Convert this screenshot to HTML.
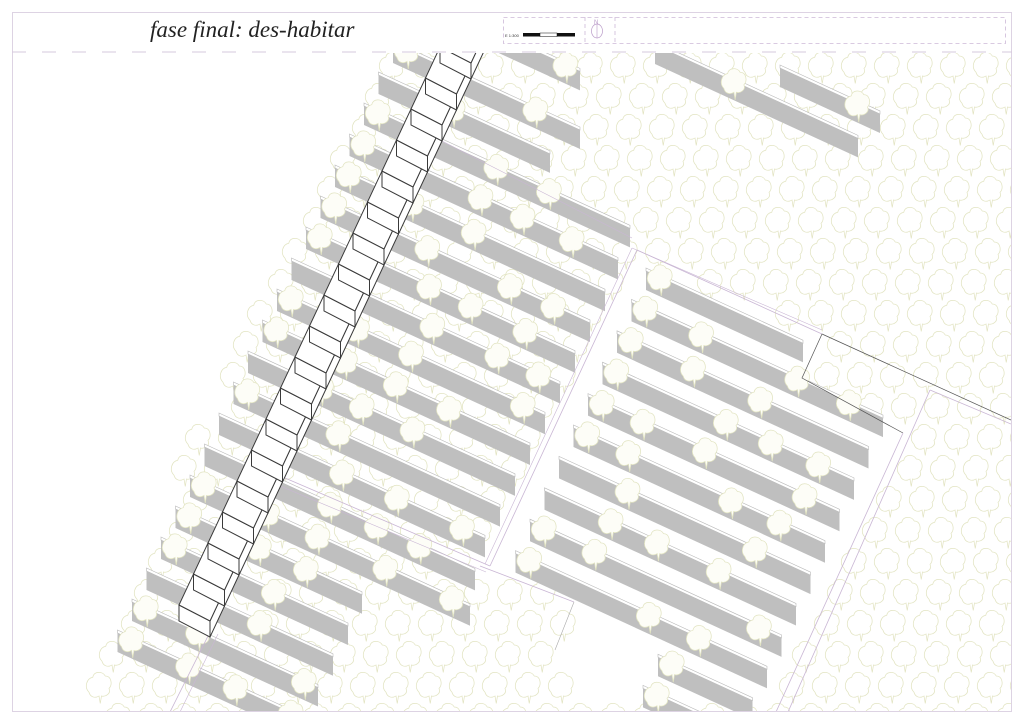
<!DOCTYPE html>
<html><head><meta charset="utf-8">
<style>
html,body{margin:0;padding:0;background:#fff;width:1024px;height:724px;overflow:hidden;position:relative}
svg{display:block;position:absolute;left:0;top:0}
</style></head>
<body>
<svg id="s" width="1024" height="724" viewBox="0 0 1024 724" xmlns="http://www.w3.org/2000/svg">
<defs>
<clipPath id="area"><rect x="13" y="53" width="998" height="658"/></clipPath>
</defs>
<rect x="0" y="0" width="1024" height="724" fill="#fff"/>
<g id="trees" clip-path="url(#area)"></g>
<g id="bars" clip-path="url(#area)"></g>
<g id="btrees" clip-path="url(#area)"></g>
<g id="lines" clip-path="url(#area)" fill="none">
<polyline points="637,250 822,334" stroke="#c9b6d4" stroke-width="0.8"/>
<polyline points="632,248 822,330" stroke="#c9b6d4" stroke-width="0.6"/>
<polyline points="637,250 490,566" stroke="#c9b6d4" stroke-width="0.8"/>
<polyline points="632,248 485,564" stroke="#c9b6d4" stroke-width="0.6"/>
<polyline points="822,334 1011,420" stroke="#555" stroke-width="0.7"/>
<polyline points="822,334 802,378 903,433" stroke="#555" stroke-width="0.7"/>
<polyline points="903,433 776,712" stroke="#c9b6d4" stroke-width="0.8"/>
<polyline points="930,390 788,712" stroke="#c9b6d4" stroke-width="0.8"/>
<polyline points="930,390 1011,424" stroke="#c9b6d4" stroke-width="0.8"/>
<polyline points="480,566 574,602" stroke="#c9b6d4" stroke-width="0.8"/>
<polyline points="285,478 490,566" stroke="#c9b6d4" stroke-width="0.8"/>
<polyline points="280,486 486,572" stroke="#c9b6d4" stroke-width="0.6"/>
<polyline points="574,602 555,650" stroke="#aaa" stroke-width="0.6"/>
<polyline points="210,632 170,712" stroke="#c9b6d4" stroke-width="0.8"/>
<polyline points="218,634 180,712" stroke="#c9b6d4" stroke-width="0.6"/>
<polyline points="440,140 632,238" stroke="#c9b6d4" stroke-width="0.6"/>
</g>
<g id="spine" fill="#fff" stroke="#3a3a3a" stroke-width="1" clip-path="url(#area)"></g>
<rect x="12.5" y="12.5" width="999" height="699" fill="none" stroke="#ddd3e3" stroke-width="1"/>
<line x1="12" y1="52" x2="1012" y2="52" stroke="#d6cade" stroke-width="1" stroke-dasharray="14,16"/>
<text x="150" y="37" font-family="Liberation Serif, serif" font-style="italic" font-size="23" fill="#222">fase final: des-habitar</text>
<rect x="503.5" y="17.5" width="502" height="26" fill="none" stroke="#cdb9d8" stroke-width="0.8" stroke-dasharray="4,3"/>
<line x1="585" y1="17" x2="585" y2="43" stroke="#cdb9d8" stroke-width="0.8" stroke-dasharray="4,3"/>
<line x1="615" y1="17" x2="615" y2="43" stroke="#cdb9d8" stroke-width="0.8" stroke-dasharray="4,3"/>
<text x="505" y="37" font-family="Liberation Sans, sans-serif" font-size="4" fill="#333">E 1:300</text>
<rect x="523" y="33" width="17" height="3.5" fill="#111"/>
<rect x="540" y="33" width="17" height="3.5" fill="#fff" stroke="#111" stroke-width="0.5"/>
<rect x="557" y="33" width="18" height="3.5" fill="#111"/>
<ellipse cx="597" cy="31" rx="5.5" ry="7" fill="none" stroke="#b99ac8" stroke-width="0.7"/>
<line x1="597" y1="24" x2="597" y2="38" stroke="#b99ac8" stroke-width="0.6"/>
<text x="594" y="24" font-family="Liberation Sans, sans-serif" font-size="6" fill="#b99ac8">N</text>
</svg>
<script>
(function(){
var NS="http://www.w3.org/2000/svg";
function el(p,t,a){var e=document.createElementNS(NS,t);for(var k in a)e.setAttribute(k,a[k]);document.getElementById(p).appendChild(e);return e;}
var TREE="M-8,5 C-12,1 -10,-6 -5,-7 C-4,-12 3,-12 5,-8 C10,-8 11,-1 8,2 C10,6 5,9 2,8 L1,14 L0,8 C-3,10 -7,9 -8,5Z";
function tree(g,x,y,fill){el(g,"path",{d:TREE,transform:"translate("+x+","+y+") scale(1.25)",fill:fill,stroke:"#e2e4c2","stroke-width":"0.6"});}
function inPoly(x,y,p){var c=false;for(var i=0,j=p.length-1;i<p.length;j=i++){var xi=p[i][0],yi=p[i][1],xj=p[j][0],yj=p[j][1];if(((yi>y)!=(yj>y))&&(x<(xj-xi)*(y-yi)/(yj-yi)+xi))c=!c;}return c;}
var blk2=[[637,250],[822,334],[802,378],[903,433],[776,712],[560,712],[574,602],[480,566]];
for(var r=0;r<22;r++){for(var c=0;c<30;c++){
 var x=95+33*c+(r%2)*16+(r*3)%8, y=66+31*r;
 if(x<90+(660-y)*(295/608)) continue;
 if(inPoly(x,y,blk2)) continue;
 tree("trees",x,y,"#fff");
}}
var S=0.46,H=19;
var seed=7;function rnd(){seed=(seed*9301+49297)%233280;return seed/233280;}
function bar(x0,y0,x1){
 var y1=y0+S*(x1-x0);
 el("bars","polygon",{points:x0+","+(y0-3)+" "+x1+","+(y1-3)+" "+x1+","+y1+" "+x0+","+y0,fill:"#fff",stroke:"#b8b8b8","stroke-width":"0.6"});
 el("bars","polygon",{points:x0+","+y0+" "+x1+","+y1+" "+x1+","+(y1+H)+" "+x0+","+(y0+H),fill:"#bfbfbf"});
 for(var x=x0+14;x<x1-12;x+=40+rnd()*30){ if(rnd()<0.6) tree("btrees",x,y0+S*(x-x0)+1,"#fdfdf7"); }
}
var ends={"-1":305,"0":318,"1":333,"2":348,"3":362,"4":470,"5":475,"6":485,"7":500,"8":515,"9":530,"10":545,"11":560,"12":575,"13":590,"14":605,"15":618,"16":630,"17":550,"18":580};
for(var i=-1;i<=18;i++){ bar(132+14.5*i,602-31*i,ends[i]); }
bar(655,45,858,null);
bar(780,68,880,null);
bar(490,30,580,null);
for(var k=0;k<13;k++){
 var sx=646-14.5*k, sy=271+31.4*k;
 var ex=k==0?803:883-14.5*(k-1);
 if(k>=10){var vis=[658,643,630][k-10]; sy=sy+S*(vis-sx); sx=vis;}
 bar(sx,sy,ex);
}
var a=[31,16],b=[14.5,-31],h=16;
function pts(arr){return arr.map(function(p){return p[0]+","+p[1]}).join(" ");}
for(var k=0;k<19;k++){
 var Ax=179+14.5*k, Ay=605-31*k;
 var P=[Ax,Ay],Q=[Ax+a[0],Ay+a[1]],R=[Q[0]+b[0],Q[1]+b[1]],T=[Ax+b[0],Ay+b[1]];
 el("spine","polygon",{points:pts([P,Q,[Q[0],Q[1]+h],[P[0],P[1]+h]])});
 el("spine","polygon",{points:pts([Q,R,[R[0],R[1]+h],[Q[0],Q[1]+h]])});
 el("spine","polygon",{points:pts([P,Q,R,T])});
}
})();
</script>
</body></html>
